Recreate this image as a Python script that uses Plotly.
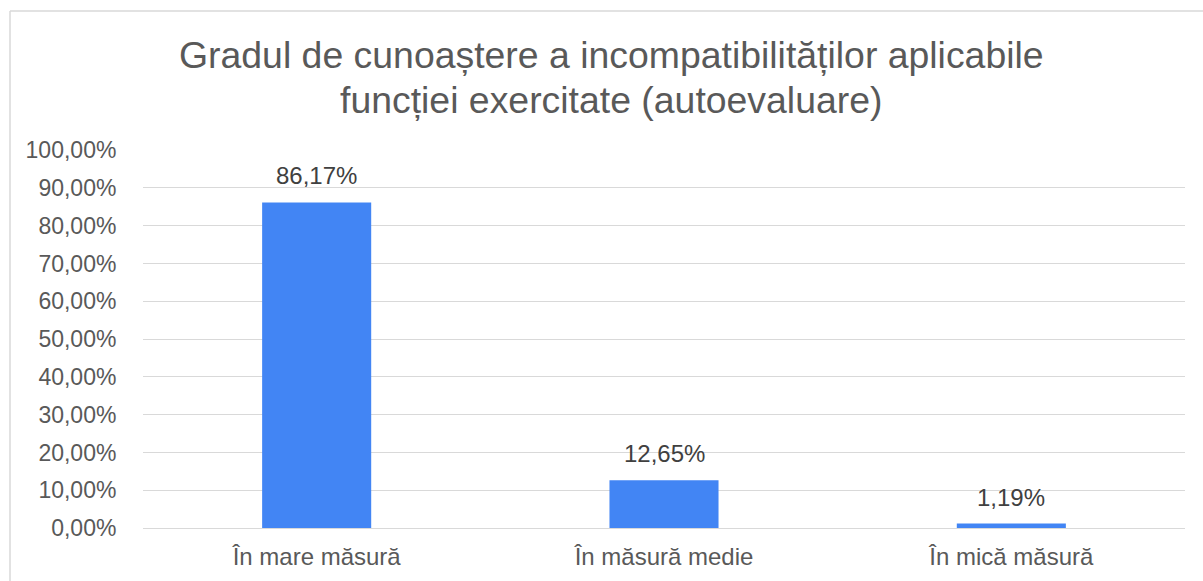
import plotly.graph_objects as go

categories = ["În mare măsură", "În măsură medie", "În mică măsură"]
values = [0.8617, 0.1265, 0.0119]
title_lines = ["Gradul de cunoaștere a incompatibilităților aplicabile",
               "funcției exercitate (autoevaluare)"]

labels = [f"{v*100:.2f}%".replace(".", ",") for v in values]

W, H = 1203, 581
L, R, T, B = 143, 18, 150, 53
pw, ph = W - L - R, H - T - B
FONT = "Liberation Sans, Arial"

def px_x(x):
    return (x - L) / pw

def px_y(y):
    return (H - B - y) / ph

fig = go.Figure(go.Bar(
    x=categories, y=values,
    marker=dict(color="#4285F4", line=dict(width=0)),
    hoverinfo="x+y",
))

for c, v, t in zip(categories, values, labels):
    fig.add_annotation(x=c, y=v, text=t, xref="x", yref="y", showarrow=False,
                       yanchor="bottom", yshift=11,
                       font=dict(family=FONT, size=24, color="#404040"))

fig.update_layout(
    width=W, height=H,
    margin=dict(l=L, r=R, t=T, b=B),
    paper_bgcolor="white", plot_bgcolor="white",
    separators=",.",
    bargap=0.686,
    showlegend=False,
    font=dict(family=FONT, color="#595959", size=23),
    xaxis=dict(showgrid=False, showline=False, ticks="outside", ticklen=7,
               tickcolor="rgba(0,0,0,0)", tickfont=dict(size=24, color="#595959")),
    yaxis=dict(range=[0, 1.0005], dtick=0.1, tickformat=".2%", showgrid=True,
               gridcolor="#d9d9d9", gridwidth=1.3, zeroline=True, zerolinecolor="#d9d9d9",
               zerolinewidth=1.3, showline=False, ticks="outside", ticklen=21,
               tickcolor="rgba(0,0,0,0)", tickfont=dict(size=23, color="#595959")),
)

for line, py in zip(title_lines, [55, 100]):
    fig.add_annotation(text=line, xref="paper", yref="paper", x=px_x(611), y=px_y(py),
                       xanchor="center", yanchor="middle", showarrow=False,
                       font=dict(family=FONT, size=37.4, color="#595959"))

# chart border (left and top edges visible)
fig.add_shape(type="line", xref="paper", yref="paper", x0=px_x(10), x1=px_x(1210),
              y0=px_y(11), y1=px_y(11), line=dict(color="#d9d9d9", width=1.5))
fig.add_shape(type="line", xref="paper", yref="paper", x0=px_x(10), x1=px_x(10),
              y0=px_y(11), y1=px_y(590), line=dict(color="#d9d9d9", width=1.5))

fig.write_html("out.html", config={"displayModeBar": False})

# remove the default page margin so the figure sits at the window's origin
with open("out.html", encoding="utf-8") as f:
    html = f.read()
html = html.replace("<head>", "<head><style>html,body{margin:0;padding:0;overflow:hidden}</style>", 1)
with open("out.html", "w", encoding="utf-8") as f:
    f.write(html)
